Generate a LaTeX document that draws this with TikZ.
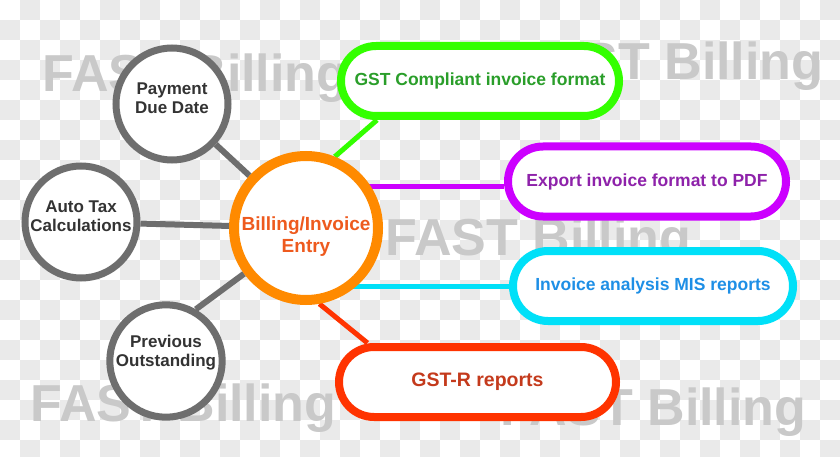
\documentclass[tikz,border=0pt]{standalone}
\usepackage{fontspec}
\setmainfont{Liberation Sans}
\usepackage{tikz}
\usetikzlibrary{calc, shapes.misc, positioning}

\definecolor{checkgray}{HTML}{EAEAEA}
\definecolor{markgray}{HTML}{C9C9C9}
\definecolor{ringgray}{HTML}{6E6E6E}
\definecolor{inkgray}{HTML}{333333}
\definecolor{hubring}{HTML}{FF8A00}
\definecolor{hubink}{HTML}{EE5A1E}
\definecolor{gstring}{HTML}{33FF00}
\definecolor{gstink}{HTML}{2A9E2A}
\definecolor{pdfring}{HTML}{CC00FF}
\definecolor{pdfink}{HTML}{8E22AA}
\definecolor{misring}{HTML}{00E0F8}
\definecolor{misink}{HTML}{1E8FE6}
\definecolor{gstrring}{HTML}{FF3300}
\definecolor{gstrink}{HTML}{C43A1C}

\pgfdeclarelayer{back}
\pgfdeclarelayer{edges}
\pgfsetlayers{back,edges,main}

\tikzset{
    wmark/.style={anchor=base west, inner sep=0, text=markgray,
        font=\fontsize{52}{52}\selectfont\bfseries},
    subnode/.style={circle, draw=ringgray, line width=7, fill=white,
        minimum size=112, inner sep=0, align=center, text=inkgray,
        font=\fontsize{17}{19}\selectfont\bfseries},
    hubnode/.style={circle, draw=hubring, line width=10, fill=white,
        minimum size=144, inner sep=0, align=center, text=hubink,
        font=\fontsize{19}{22}\selectfont\bfseries},
    pill/.style={rounded rectangle, line width=8, fill=white,
        minimum height=70, minimum width=278, inner sep=0,
        font=\fontsize{17.5}{20}\selectfont\bfseries},
    graylink/.style={draw=ringgray, line width=6},
    colorlink/.style={line width=5}
}

\begin{document}
\begin{tikzpicture}[x=1pt, y=-1pt]
    \useasboundingbox (0,0) rectangle (840,457);

    % 1. Nền ô vuông và chữ mờ
    \begin{pgfonlayer}{back}
        \fill[white] (0,0) rectangle (840,457);
        \foreach \i in {0,40,...,800} {
            \foreach \j in {0,40,...,440} {
                \fill[checkgray] (\i+20,\j) rectangle +(20,20);
                \fill[checkgray] (\i,\j+20) rectangle +(20,20);
            }
        }
        \node[wmark] (wm1) at (42,92) {FAST Billing};
        \node[wmark] (wm2) at (517,80) {FAST Billing};
        \node[wmark] (wm3) at (385,255) {FAST Billing};
        \node[wmark] (wm4) at (30,421) {FAST Billing};
        \node[wmark] (wm5) at (500,425) {FAST Billing};
    \end{pgfonlayer}

    % 2. Nút trung tâm và các nút tròn
    \node[hubnode] (hub) at (306,228) {\rule{0pt}{30pt}Billing/Invoice\\Entry};
    \node[subnode] (pay) at (172,104) {Payment\\Due Date\rule[-12pt]{0pt}{1pt}};
    \node[subnode] (tax) at (81,222) {Auto Tax\\Calculations\rule[-12pt]{0pt}{1pt}};
    \node[subnode] (prev) at (166,361) {Previous\\Outstanding\rule[-20pt]{0pt}{1pt}};

    % 3. Các hộp bo tròn
    \node[pill, draw=gstring, text=gstink] (gst) at (480,81)
        {GST Compliant invoice format};
    \node[pill, draw=pdfring, text=pdfink] (pdf) at (647,181.5)
        {Export invoice format to PDF};
    \node[pill, draw=misring, text=misink, minimum width=280] (mis) at (653,286)
        {Invoice analysis MIS reports};
    \node[pill, draw=gstrring, text=gstrink, minimum width=277,
        font=\fontsize{19.5}{22}\selectfont\bfseries] (gstr) at (477.5,382)
        {GST-R reports};

    % 4. Đường nối
    \coordinate (pdfin) at ([yshift=-5pt]pdf.west);
    \begin{pgfonlayer}{edges}
        \draw[graylink] (pay) -- (hub);
        \draw[graylink] (tax) -- (hub);
        \draw[graylink] (prev.60) -- (hub);
        \draw[colorlink, gstring] (hub.68) -- ([xshift=-103pt]gst.south);
        \draw[colorlink, pdfring] (hub.center |- pdfin) -- (pdfin);
        \draw[colorlink, misring] (hub.center |- mis.west) -- (mis.west);
        \draw[colorlink, gstrring] (hub.-80) -- ([xshift=-110pt]gstr.north);
    \end{pgfonlayer}
\end{tikzpicture}
\end{document}
